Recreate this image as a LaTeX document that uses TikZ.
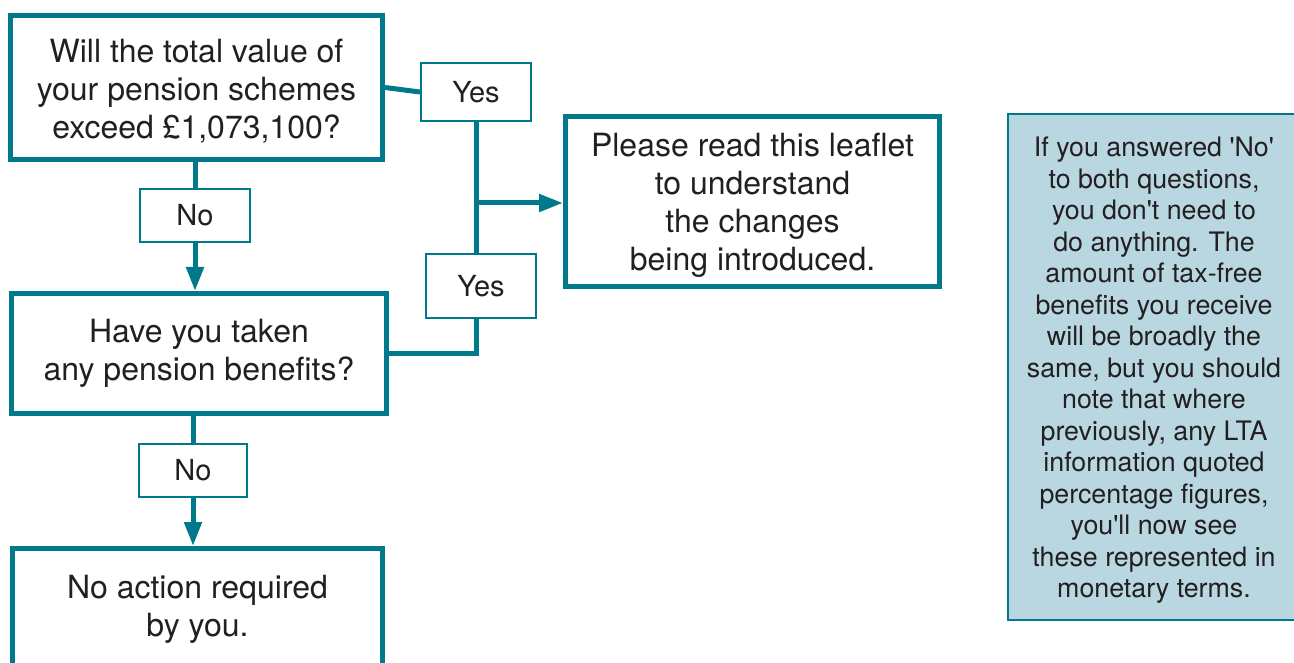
\documentclass[tikz,border=0pt]{standalone}
\usepackage{fontspec}
\setmainfont{TeX Gyre Heros}[Ligatures=TeXOff]
\usetikzlibrary{arrows.meta}
\definecolor{tealc}{RGB}{0,122,138}
\definecolor{sideblue}{RGB}{185,215,225}
\definecolor{txt}{RGB}{35,31,32}
\newcommand{\topgap}[1]{\rule{0pt}{#1}}
\begin{document}
\begin{tikzpicture}[x=1pt,y=-1pt,
  big/.style={draw=tealc, line width=5pt, align=center, text=txt, font=\fontsize{32}{38}\selectfont, inner sep=0pt},
  lab/.style={draw=tealc, line width=2pt, text=txt, font=\fontsize{29}{34}\selectfont, inner sep=0pt},
  side/.style={draw=tealc, fill=sideblue, line width=2pt, align=center, text=txt, font=\fontsize{26.8}{31.5}\selectfont, inner sep=0pt},
  conn/.style={draw=tealc, line width=5pt},
  arr/.style={conn, -{Triangle[length=24pt,width=17pt]}}]
\useasboundingbox (0,0) rectangle (1294,663);
\clip (0,0) rectangle (1294,663);
\node[big, minimum width=372pt, minimum height=144pt] (q1) at (196.5,87.5)
  {\topgap{30pt}Will the total value of\\your pension schemes\\exceed £1,073,100?};
\node[lab, minimum width=110pt, minimum height=58pt] (yes1) at (476,92) {Yes};
\node[lab, minimum width=110pt, minimum height=64pt] (yes2) at (481,286) {Yes};
\node[big, minimum width=374pt, minimum height=170pt] (info) at (752.5,201.5)
  {\topgap{30pt}Please read this leaflet\\to understand\\the changes\\being introduced.};
\node[lab, minimum width=110pt, minimum height=53pt] (no1) at (195,215.5) {No};
\node[big, minimum width=375pt, minimum height=120pt] (q2) at (199,353.5)
  {Have you taken\\any pension benefits?};
\node[lab, minimum width=108pt, minimum height=53pt] (no2) at (193,470.5) {No};
\node[big, minimum width=370pt, minimum height=122pt] (q3) at (197.5,609.5)
  {No action required\\by you.};
\node[side, minimum width=292pt, minimum height=506pt] (side) at (1154,367)
  {\topgap{26pt}If you answered 'No'\\to both questions,\\you don't need to\\do anything. The\\amount of tax-free\\benefits you receive\\will be broadly the\\same, but you should\\note that where\\previously, any LTA\\information quoted\\percentage figures,\\you'll now see\\these represented in\\monetary terms.};
% connectors
\draw[conn] (q1.east) -- (yes1.west);
\draw[conn] (yes1.south) -- (yes1.south |- yes2.north);
\coordinate (j) at (476,203);
\draw[arr] (j) -- (j -| info.west);
\draw[conn] (yes2.south -| yes1.south) |- (q2.east);
\draw[conn] (q1.south -| no1.north) -- (no1.north);
\draw[arr] (no1.south) -- (no1.south |- q2.north);
\draw[conn] (q2.south -| no2.north) -- (no2.north);
\draw[arr] (no2.south) -- (no2.south |- q3.north);
\end{tikzpicture}
\end{document}
